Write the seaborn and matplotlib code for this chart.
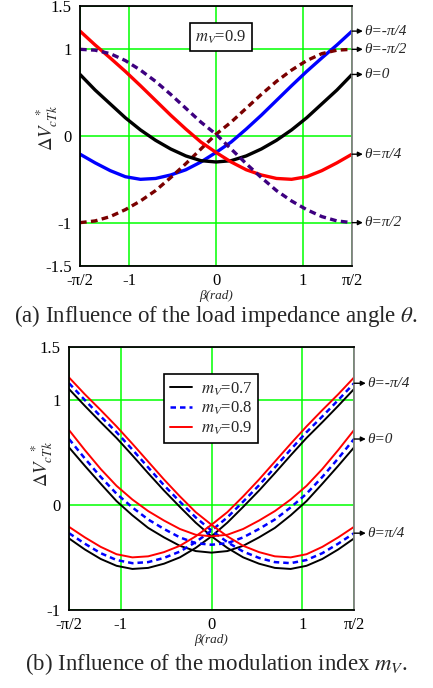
import numpy as np
import pandas as pd
import matplotlib
matplotlib.use("Agg")
import matplotlib.pyplot as plt
from matplotlib.lines import Line2D
import seaborn as sns

# Sample points of the phase angle beta, in degrees (-pi/2 .. pi/2)
beta_deg = [-90, -80, -70, -60, -50, -40, -30, -20, -10, 0,
            10, 20, 30, 40, 50, 60, 70, 80, 90]

# (a) m_V = 0.9, different load impedance angles theta
a_theta_m_pi4 = [-0.21, -0.31, -0.40, -0.47, -0.50, -0.49, -0.45, -0.39, -0.30, -0.19,
                 -0.07, 0.08, 0.24, 0.41, 0.58, 0.745, 0.90, 1.05, 1.21]
a_theta_m_pi2 = [-1.00, -0.98, -0.93, -0.85, -0.75, -0.63, -0.48, -0.32, -0.15, 0.02,
                 0.16, 0.32, 0.48, 0.63, 0.76, 0.87, 0.95, 0.99, 1.00]
a_theta_0 = [0.71, 0.53, 0.37, 0.21, 0.07, -0.05, -0.15, -0.23, -0.285, -0.30,
             -0.285, -0.23, -0.15, -0.05, 0.07, 0.21, 0.37, 0.53, 0.71]
a_theta_pi4 = [1.21, 1.05, 0.90, 0.745, 0.58, 0.41, 0.24, 0.08, -0.07, -0.19,
               -0.30, -0.39, -0.45, -0.49, -0.50, -0.47, -0.40, -0.31, -0.21]
a_theta_pi2 = [1.00, 0.99, 0.95, 0.87, 0.76, 0.63, 0.48, 0.32, 0.16, 0.02,
               -0.15, -0.32, -0.48, -0.63, -0.75, -0.85, -0.93, -0.98, -1.00]

# (b) different modulation indices m_V for theta = -pi/4, 0, pi/4
b_m07_theta_m_pi4 = [-0.32, -0.425, -0.515, -0.58, -0.61, -0.60, -0.56, -0.50, -0.41, -0.30,
                     -0.17, -0.02, 0.135, 0.30, 0.47, 0.635, 0.785, 0.94, 1.10]
b_m07_theta_0 = [0.545, 0.37, 0.20, 0.035, -0.10, -0.22, -0.31, -0.39, -0.44, -0.455,
                 -0.44, -0.39, -0.31, -0.22, -0.10, 0.035, 0.20, 0.37, 0.545]
b_m07_theta_pi4 = [1.10, 0.94, 0.785, 0.635, 0.47, 0.30, 0.135, -0.02, -0.17, -0.30,
                   -0.41, -0.50, -0.56, -0.60, -0.61, -0.58, -0.515, -0.425, -0.32]

b_m08_theta_m_pi4 = [-0.27, -0.37, -0.46, -0.525, -0.555, -0.545, -0.505, -0.445, -0.355, -0.245,
                     -0.12, 0.03, 0.185, 0.355, 0.525, 0.69, 0.84, 0.995, 1.155]
b_m08_theta_0 = [0.625, 0.44, 0.265, 0.105, -0.025, -0.14, -0.23, -0.31, -0.365, -0.38,
                 -0.365, -0.31, -0.23, -0.14, -0.025, 0.105, 0.265, 0.44, 0.625]
b_m08_theta_pi4 = [1.155, 0.995, 0.84, 0.69, 0.525, 0.355, 0.185, 0.03, -0.12, -0.245,
                   -0.355, -0.445, -0.505, -0.545, -0.555, -0.525, -0.46, -0.37, -0.27]

b_m09_theta_m_pi4 = [-0.21, -0.31, -0.40, -0.47, -0.50, -0.49, -0.45, -0.39, -0.30, -0.19,
                     -0.07, 0.08, 0.24, 0.41, 0.58, 0.745, 0.90, 1.05, 1.21]
b_m09_theta_0 = [0.71, 0.52, 0.34, 0.18, 0.05, -0.06, -0.15, -0.23, -0.285, -0.30,
                 -0.285, -0.23, -0.15, -0.06, 0.05, 0.18, 0.34, 0.52, 0.71]
b_m09_theta_pi4 = [1.21, 1.05, 0.90, 0.745, 0.58, 0.41, 0.24, 0.08, -0.07, -0.19,
                   -0.30, -0.39, -0.45, -0.49, -0.50, -0.47, -0.40, -0.31, -0.21]

x_ticks = [-np.pi / 2, -1, 0, 1, np.pi / 2]
x_ticklabels = ["-\u03c0/2", "-1", "0", "1", "\u03c0/2"]
theta_labels_a = ["\u03b8=-\u03c0/4", "\u03b8=-\u03c0/2", "\u03b8=0", "\u03b8=\u03c0/4", "\u03b8=\u03c0/2"]
theta_labels_b = ["\u03b8=-\u03c0/4", "\u03b8=0", "\u03b8=\u03c0/4"]
m_labels = ["0.7", "0.8", "0.9"]

sns.set_style("white")
plt.rcParams["font.family"] = ["Liberation Serif", "DejaVu Serif"]
plt.rcParams["mathtext.fontset"] = "stix"

beta = np.deg2rad(beta_deg)
GREEN = "#00ff00"


def style_axes(ax, yticks, yticklabels, ylim):
    ax.set_xlim(-np.pi / 2, np.pi / 2)
    ax.set_ylim(*ylim)
    ax.set_xticks(x_ticks)
    ax.set_xticklabels(x_ticklabels)
    ax.set_yticks(yticks)
    ax.set_yticklabels(yticklabels)
    ax.grid(True, color=GREEN, lw=1.1)
    ax.set_axisbelow(True)
    ax.tick_params(length=0, labelsize=12, colors="black")
    ax.tick_params(axis="x", pad=5)
    ax.tick_params(axis="y", pad=6)
    for side in ("left", "bottom", "top"):
        ax.spines[side].set_color("black")
        ax.spines[side].set_linewidth(1.3)
    ax.spines["right"].set_color("#7f7f7f")
    ax.spines["right"].set_linewidth(1.3)
    ax.set_xlabel("\u03b2(rad)", fontstyle="italic", fontsize=9.5, labelpad=1)
    ax.set_ylabel("")


def end_arrow(ax, y, label, dx_arrow=0.125, dx_text=0.015):
    x0 = np.pi / 2
    ax.annotate("", xy=(x0 + dx_arrow, y), xytext=(x0, y),
                arrowprops=dict(arrowstyle="-|>", color="black", lw=1.0,
                                mutation_scale=7, shrinkA=0, shrinkB=0),
                annotation_clip=False)
    ax.text(x0 + dx_arrow + dx_text, y, label, fontstyle="italic", fontsize=11,
            va="center", ha="left", clip_on=False)


fig = plt.figure(figsize=(4.33, 6.88), dpi=100)
ax1 = fig.add_axes([0.1848, 0.6134, 0.6282, 0.3779])
ax2 = fig.add_axes([0.1594, 0.1134, 0.6582, 0.3823])

# ---- (a) ----
curves_a = [
    (a_theta_m_pi4, "#0000ff", None),
    (a_theta_m_pi2, "#7a0000", (2.0, 1.3)),
    (a_theta_0, "black", None),
    (a_theta_pi4, "#ff0000", None),
    (a_theta_pi2, "#3d0080", (2.0, 1.3)),
]
for vals, color, dash in curves_a:
    line_ax = sns.lineplot(x=beta, y=vals, ax=ax1, color=color, lw=2.4,
                           estimator=None, sort=False)
    if dash is not None:
        line_ax.lines[-1].set_dashes(dash)

style_axes(ax1, [-1.5, -1, 0, 1, 1.5], ["-1.5", "-1", "0", "1", "1.5"], (-1.5, 1.5))
for (vals, _, _), lab in zip(curves_a, theta_labels_a):
    end_arrow(ax1, vals[-1], lab)

ax1.text(0.518, 0.881, "$m_V$=0.9", transform=ax1.transAxes, fontsize=12,
         ha="center", va="center",
         bbox=dict(boxstyle="square,pad=0.3", fc="white", ec="black", lw=1.2))
ax1.text(-0.12, 0.53, r"$\Delta V_{cTk}^{\ \ *}$", transform=ax1.transAxes,
         rotation=90, fontsize=13.5, ha="center", va="center")

# ---- (b) ----
groups_b = [
    ([b_m07_theta_m_pi4, b_m07_theta_0, b_m07_theta_pi4], "black", None, 1.4),
    ([b_m08_theta_m_pi4, b_m08_theta_0, b_m08_theta_pi4], "#0000ff", (2.2, 1.6), 1.8),
    ([b_m09_theta_m_pi4, b_m09_theta_0, b_m09_theta_pi4], "#ff0000", None, 1.4),
]
handles = []
for (group, color, dash, lw), mlab in zip(groups_b, m_labels):
    for vals in group:
        line_ax = sns.lineplot(x=beta, y=vals, ax=ax2, color=color, lw=lw,
                               estimator=None, sort=False)
        if dash is not None:
            line_ax.lines[-1].set_dashes(dash)
    h = Line2D([], [], color=color, lw=lw)
    if dash is not None:
        h.set_dashes(dash)
    handles.append((h, "$m_V$=" + mlab))

style_axes(ax2, [-1, 0, 1, 1.5], ["-1", "0", "1", "1.5"], (-1, 1.5))
theta_ends_b = [b_m08_theta_m_pi4[-1], b_m08_theta_0[-1], b_m08_theta_pi4[-1]]
for yv, lab in zip(theta_ends_b, theta_labels_b):
    end_arrow(ax2, yv, lab, dx_arrow=0.13)

leg = ax2.legend([h for h, _ in handles], [t for _, t in handles],
                 loc="upper left", bbox_to_anchor=(0.333, 0.896),
                 borderaxespad=0, fontsize=12, frameon=True, fancybox=False,
                 handlelength=1.35, handletextpad=0.5, labelspacing=0.15,
                 borderpad=0.35)
leg.get_frame().set_edgecolor("black")
leg.get_frame().set_linewidth(1.2)
leg.get_frame().set_alpha(1)

ax2.text(-0.095, 0.555, r"$\Delta V_{cTk}^{\ \ *}$", transform=ax2.transAxes,
         rotation=90, fontsize=13.5, ha="center", va="center")

# captions
fig.text(0.5, 1 - 316 / 688, r"(a) Influence of the load impedance angle $\theta$.",
         ha="center", va="center", fontsize=16.5)
fig.text(0.5, 1 - 664 / 688, r"(b) Influence of the modulation index $m_V$.",
         ha="center", va="center", fontsize=16.5)

fig.savefig("out.png", dpi=100)
